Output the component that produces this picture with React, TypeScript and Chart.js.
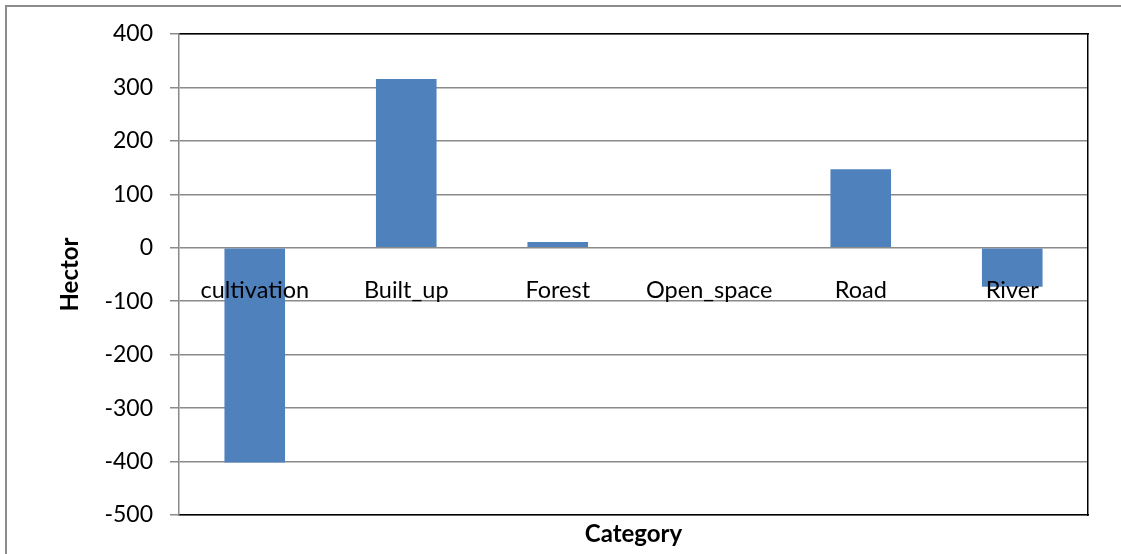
import React, { useEffect, useRef } from "react";
import { Chart, registerables } from "chart.js";

Chart.register(...registerables);

const categories = ["cultivation", "Built_up", "Forest", "Open_space", "Road", "River"];
const hectorValues = [-402, 316, 11, 0, 147, -73];
const yMin = -500;
const yMax = 400;
const yStep = 100;

const FONT = "Lato, 'Open Sans', sans-serif";
const BAR = "#4F81BD";
const GRID = "#8a8a8a";

export default function App() {
  const ref = useRef<HTMLCanvasElement>(null);

  useEffect(() => {
    if (!ref.current) return;
    const chart = new Chart(ref.current, {
      type: "bar",
      data: {
        labels: categories,
        datasets: [
          {
            label: "Hector",
            data: hectorValues,
            backgroundColor: BAR,
            borderWidth: 0,
            barPercentage: 0.4,
            categoryPercentage: 1,
            xAxisID: "x",
            yAxisID: "y",
          },
        ],
      },
      options: {
        animation: false,
        responsive: false,
        maintainAspectRatio: false,
        layout: { padding: { left: 52, right: 33, top: 34, bottom: 0 } },
        plugins: {
          legend: { display: false },
          tooltip: { enabled: false },
        },
        scales: {
          x: {
            type: "category",
            position: "bottom",
            grid: { display: false, drawTicks: false },
            border: { display: true, color: "#000", width: 1.5 },
            ticks: { display: false },
            title: {
              display: true,
              text: "Category",
              color: "#000",
              font: { family: FONT, size: 24, weight: "bold" },
              padding: { top: 0, bottom: 5 },
            },
            afterFit: (s: any) => {
              s.height = 39;
            },
          },
          xLabels: {
            type: "category",
            labels: categories,
            position: { y: 0 },
            grid: { display: false, drawTicks: false },
            border: { display: false },
            ticks: {
              z: 1,
              color: "#000",
              font: { family: FONT, size: 23.5 },
              padding: 29,
              maxRotation: 0,
              autoSkip: false,
            },
          },
          xTop: {
            type: "category",
            labels: categories,
            position: "top",
            grid: { display: false, drawTicks: false },
            border: { display: true, color: "#000", width: 1.5 },
            ticks: { display: false },
            afterFit: (s: any) => {
              s.height = 0;
            },
          },
          y: {
            type: "linear",
            position: "left",
            min: yMin,
            max: yMax,
            ticks: {
              stepSize: yStep,
              color: "#000",
              font: { family: FONT, size: 23 },
              padding: 17,
            },
            grid: {
              color: GRID,
              lineWidth: 1.5,
              tickLength: 9,
              tickColor: GRID,
            },
            border: { display: true, color: GRID, width: 1.5 },
            title: {
              display: true,
              text: "Hector",
              color: "#000",
              font: { family: FONT, size: 24, weight: "bold" },
              padding: { top: 4, bottom: 0 },
            },
            afterFit: (s: any) => {
              s.width = 127;
            },
          },
          yRight: {
            type: "linear",
            position: "right",
            min: yMin,
            max: yMax,
            grid: { display: false, drawTicks: false },
            border: { display: true, color: "#000", width: 1.5 },
            ticks: { display: false },
            afterFit: (s: any) => {
              s.width = 0;
            },
          },
        },
      },
    });
    return () => chart.destroy();
  }, []);

  return (
    <div
      style={{
        position: "fixed",
        left: 0,
        top: 0,
        width: 1121,
        height: 554,
        overflow: "hidden",
        background: "#fff",
      }}
    >
      <div
        style={{
          position: "absolute",
          left: 5,
          top: 5,
          width: 1200,
          height: 600,
          border: "2.5px solid #8c8c8c",
        }}
      />
      <canvas
        ref={ref}
        width={1121}
        height={554}
        style={{ position: "absolute", left: 0, top: 0, width: 1121, height: 554 }}
      />
    </div>
  );
}
